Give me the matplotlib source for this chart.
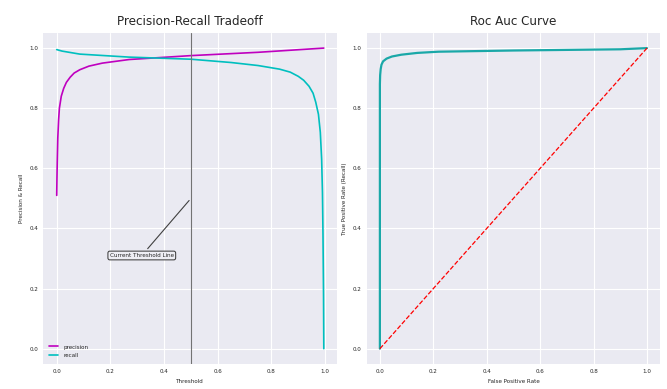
import matplotlib
matplotlib.use("Agg")
import matplotlib.pyplot as plt

# precision / recall vs threshold
thr_precision = [0.0, 0.001, 0.002, 0.004, 0.007, 0.01, 0.017, 0.026, 0.036, 0.05, 0.065, 0.086,
                 0.12, 0.17, 0.27, 0.5, 0.75, 0.995]
precision = [0.51, 0.57, 0.62, 0.7, 0.76, 0.8, 0.84, 0.866, 0.886, 0.903, 0.917, 0.928,
             0.94, 0.95, 0.962, 0.975, 0.986, 1.0]

thr_recall = [0.0, 0.02, 0.086, 0.27, 0.5, 0.65, 0.75, 0.83, 0.87, 0.9, 0.92, 0.94, 0.955,
              0.965, 0.975, 0.982, 0.987, 0.99, 0.992, 0.994, 0.995]
recall = [0.995, 0.99, 0.98, 0.97, 0.963, 0.952, 0.942, 0.93, 0.92, 0.906, 0.893, 0.873, 0.85,
          0.82, 0.78, 0.72, 0.63, 0.52, 0.38, 0.18, 0.0]

# roc curve
fpr = [0.0, 0.0, 0.001, 0.003, 0.006, 0.012, 0.025, 0.045, 0.08, 0.14, 0.22, 0.5, 0.9, 1.0]
tpr = [0.0, 0.88, 0.91, 0.93, 0.945, 0.956, 0.965, 0.972, 0.978, 0.984, 0.988, 0.992, 0.996, 1.0]

current_threshold = 0.5

plt.style.use("seaborn-v0_8-darkgrid")
plt.rcParams["font.family"] = ["Liberation Sans Narrow", "DejaVu Sans"]
plt.rcParams["font.stretch"] = "condensed"

fig, (ax1, ax2) = plt.subplots(1, 2, figsize=(6.67, 3.89), dpi=100)
fig.subplots_adjust(left=0.065, right=0.99, top=0.915, bottom=0.065, wspace=0.1)

ax1.plot(thr_precision, precision, color="m", lw=1.2, label="precision")
ax1.plot(thr_recall, recall, color="c", lw=1.2, label="recall")
ax1.axvline(current_threshold, color="0.45", lw=0.8)
ax1.annotate("Current Threshold Line", xy=(current_threshold, 0.5), xytext=(0.317, 0.31),
             fontsize=4.5, ha="center", va="center",
             bbox=dict(boxstyle="round,pad=0.3", fc="#eeeef4", ec="0.2", lw=0.7),
             arrowprops=dict(arrowstyle="-", color="0.25", lw=0.8))
ax1.set_title("Precision-Recall Tradeoff", fontsize=9.5)
ax1.set_xlabel("Threshold", fontsize=4.5)
ax1.set_ylabel("Precision & Recall", fontsize=4.5)
ax1.tick_params(labelsize=4.5)
ax1.legend(loc="lower left", fontsize=4.5, frameon=False, handlelength=1.5)

ax2.plot(fpr, tpr, color="#1aa8a8", lw=1.6)
ax2.plot([0, 1], [0, 1], "r--", lw=0.9)
ax2.set_title("Roc Auc Curve", fontsize=9.5)
ax2.set_xlabel("False Positive Rate", fontsize=4.5)
ax2.set_ylabel("True Positive Rate (Recall)", fontsize=4.5)
ax2.tick_params(labelsize=4.5)

for ax in (ax1, ax2):
    ax.set_xticks([0.0, 0.2, 0.4, 0.6, 0.8, 1.0])
    ax.set_yticks([0.0, 0.2, 0.4, 0.6, 0.8, 1.0])

plt.savefig("out.png", dpi=100)
